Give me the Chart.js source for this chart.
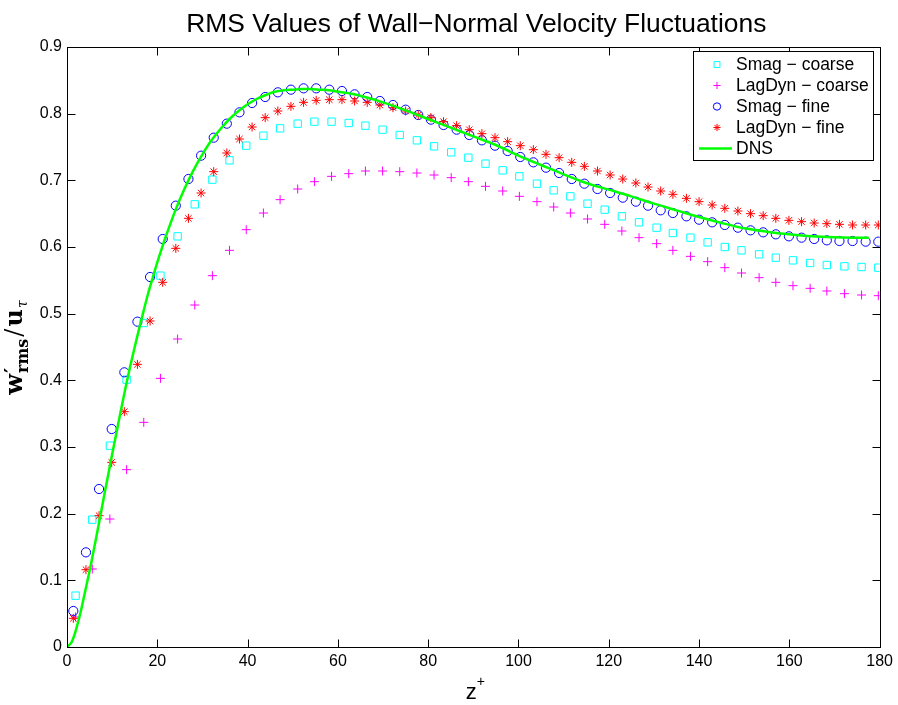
<!DOCTYPE html>
<html><head><meta charset="utf-8">
<script src="https://cdn.jsdelivr.net/npm/chart.js@4/dist/chart.umd.min.js"></script>
<style>html,body{margin:0;padding:0;background:#fff}canvas{display:block}</style>
</head><body>
<canvas id="c" width="898" height="705"></canvas>
<script>
// ---- data ----
const zCoarse = [1.9,5.6,9.5,13.2,17.0,20.7,24.5,28.3,32.2,36.0,39.7,43.5,47.2,51.1,54.8,58.6,62.4,66.1,69.9,73.7,77.5,81.3,85.1,88.9,92.7,96.5,100.2,104.1,107.8,111.5,115.3,119.1,122.9,126.7,130.6,134.2,138.1,141.9,145.7,149.4,153.3,157.0,160.8,164.6,168.3,172.2,176.0,179.7];
const smagCoarse = [0.077,0.191,0.302,0.401,0.486,0.557,0.616,0.664,0.701,0.730,0.752,0.767,0.778,0.785,0.788,0.788,0.786,0.782,0.776,0.768,0.760,0.751,0.742,0.734,0.725,0.715,0.706,0.695,0.685,0.676,0.665,0.656,0.646,0.637,0.629,0.621,0.614,0.607,0.600,0.595,0.589,0.584,0.580,0.576,0.573,0.571,0.570,0.569];
const lagdynCoarse = [0.045,0.117,0.192,0.266,0.337,0.403,0.462,0.513,0.557,0.595,0.626,0.651,0.671,0.687,0.698,0.706,0.710,0.714,0.714,0.713,0.711,0.708,0.704,0.698,0.691,0.684,0.676,0.668,0.660,0.651,0.642,0.634,0.624,0.614,0.605,0.595,0.586,0.578,0.569,0.561,0.554,0.547,0.542,0.538,0.534,0.530,0.528,0.527];
const zFine = [1.4,4.2,7.1,9.9,12.7,15.6,18.4,21.2,24.1,26.9,29.7,32.5,35.4,38.2,41.0,43.9,46.7,49.6,52.4,55.2,58.1,60.9,63.7,66.5,69.3,72.2,75.0,77.8,80.6,83.4,86.3,89.1,91.9,94.8,97.6,100.4,103.3,106.1,109.0,111.8,114.6,117.5,120.3,123.1,126.0,128.7,131.5,134.2,137.2,140.0,142.9,145.7,148.6,151.4,154.2,157.0,159.9,162.7,165.5,168.3,171.1,174.0,176.9,179.7];
const smagFine = [0.054,0.142,0.237,0.327,0.412,0.488,0.555,0.612,0.662,0.702,0.737,0.764,0.785,0.802,0.816,0.825,0.832,0.836,0.838,0.838,0.836,0.834,0.829,0.825,0.819,0.813,0.806,0.798,0.791,0.783,0.776,0.768,0.760,0.752,0.744,0.735,0.727,0.719,0.711,0.702,0.695,0.687,0.681,0.674,0.668,0.662,0.655,0.651,0.646,0.641,0.637,0.633,0.629,0.625,0.622,0.619,0.616,0.614,0.612,0.610,0.609,0.609,0.608,0.608];
const lagdynFine = [0.043,0.116,0.197,0.277,0.353,0.424,0.489,0.547,0.598,0.643,0.681,0.713,0.741,0.762,0.780,0.794,0.804,0.811,0.817,0.820,0.821,0.821,0.819,0.817,0.813,0.809,0.804,0.798,0.794,0.788,0.782,0.776,0.770,0.764,0.758,0.752,0.746,0.739,0.734,0.727,0.721,0.714,0.708,0.702,0.696,0.690,0.684,0.679,0.673,0.668,0.663,0.658,0.654,0.650,0.647,0.643,0.640,0.638,0.636,0.635,0.634,0.633,0.633,0.633];
const zDNS = [0,1,2,3,4,5,6,7,8,9,10,11,12,13,14,15,16,17,18,19,20,21,22,24,26,28,30,32,34,36,38,40,42,44,46,48,50,52,54,56,58,60,63,66,70,75,80,85,90,95,100,105,110,115,120,125,130,135,140,145,150,155,160,165,170,175,177.6];
const dns = [0,0.007,0.026,0.052,0.083,0.114,0.148,0.183,0.219,0.254,0.289,0.323,0.357,0.390,0.421,0.450,0.478,0.505,0.531,0.554,0.577,0.598,0.618,0.655,0.687,0.715,0.739,0.760,0.777,0.792,0.804,0.814,0.822,0.828,0.833,0.835,0.836,0.837,0.837,0.836,0.835,0.833,0.830,0.825,0.817,0.805,0.792,0.779,0.766,0.753,0.737,0.723,0.709,0.696,0.686,0.676,0.665,0.655,0.645,0.636,0.628,0.623,0.619,0.616,0.6145,0.614,0.614];
const xTicks = [0,20,40,60,80,100,120,140,160,180];
const yTicks = [0,0.1,0.2,0.3,0.4,0.5,0.6,0.7,0.8,0.9];
const seriesNames = ['Smag \u2212 coarse','LagDyn \u2212 coarse','Smag \u2212 fine','LagDyn \u2212 fine','DNS'];

// ---- styles ----
const FONT = '"Liberation Sans", Arial, Helvetica, sans-serif';
const SERIF = '"DejaVu Serif", "Liberation Serif", serif';
const CYAN = '#00ffff', MAG = '#ff00ff', BLUE = '#0000ff', RED = '#ff0000', GREEN = '#00ff00';

const pts = (xs, ys) => xs.map((x, i) => ({x: x, y: ys[i]}));

const styles = [
  {color: CYAN, pointStyle: 'rect', radius: 5.2},
  {color: MAG, pointStyle: 'cross', radius: 4.5},
  {color: BLUE, pointStyle: 'circle', radius: 4.6},
  {color: RED, pointStyle: 'star', radius: 4.5},
  {color: GREEN, line: true}
];

const decor = {
  id: 'decor',
  afterDraw(chart) {
    const c = chart.ctx, a = chart.chartArea, xs = chart.scales.x, ys = chart.scales.y;
    c.save();
    c.strokeStyle = '#000';
    c.lineWidth = 1;
    const L = Math.round(a.left) + 0.5, R = Math.round(a.right) + 0.5;
    const T = Math.round(a.top) + 0.5, B = Math.round(a.bottom) + 0.5;
    c.strokeRect(L, T, R - L, B - T);
    c.beginPath();
    const TL = 8;
    xTicks.forEach(v => {
      const p = Math.round(xs.getPixelForValue(v)) + 0.5;
      c.moveTo(p, B); c.lineTo(p, B - TL);
      c.moveTo(p, T); c.lineTo(p, T + TL);
    });
    yTicks.forEach(v => {
      const p = Math.round(ys.getPixelForValue(v)) + 0.5;
      c.moveTo(L, p); c.lineTo(L + TL, p);
      c.moveTo(R, p); c.lineTo(R - TL, p);
    });
    c.stroke();

    // title
    c.fillStyle = '#000';
    c.font = '26.4px ' + FONT;
    c.textAlign = 'center';
    c.textBaseline = 'alphabetic';
    c.fillText('RMS Values of Wall\u2212Normal Velocity Fluctuations', (a.left + a.right) / 2 + 3, 32);

    // x label z+
    c.font = '22px ' + FONT;
    c.textAlign = 'left';
    const zw = c.measureText('z').width;
    const xc = (a.left + a.right) / 2;
    c.fillText('z', xc - zw / 2 - 2, 699);
    c.font = '14px ' + FONT;
    c.fillText('+', xc + zw / 2 - 2, 686);

    // y label w'_rms / u_tau (rotated)
    c.save();
    c.translate(22, (a.top + a.bottom) / 2);
    c.rotate(-Math.PI / 2);
    const parts = [
      {t: 'w', f: 'bold 24px ' + SERIF, dy: 0},
      {t: 'rms', f: 'bold 16px ' + SERIF, dy: 6, sup: '\u2032'},
      {t: '/', f: '24px ' + SERIF, dy: 0, pad: 2},
      {t: 'u', f: 'bold 24px ' + SERIF, dy: 0},
      {t: '\u03c4', f: 'italic 14px ' + SERIF, dy: 5}
    ];
    let total = 0;
    parts.forEach(p => { c.font = p.f; p.w = c.measureText(p.t).width + 1 + (p.pad || 0); total += p.w; });
    let px = -total / 2;
    parts.forEach(p => {
      c.font = p.f;
      c.fillText(p.t, px + (p.pad || 0) / 2, p.dy);
      if (p.sup) {
        c.font = 'bold 20px ' + SERIF;
        c.fillText(p.sup, px, -3);
      }
      px += p.w;
    });
    c.restore();

    // legend
    const lx0 = 693, ly0 = 51, lx1 = 873, ly1 = 160;
    c.fillStyle = '#fff';
    c.fillRect(lx0, ly0, lx1 - lx0, ly1 - ly0);
    c.strokeStyle = '#000';
    c.lineWidth = 1;
    c.strokeRect(lx0 + 0.5, ly0 + 0.5, lx1 - lx0, ly1 - ly0);
    const rowY = [64.5, 85.5, 106.5, 127.5, 148.5];
    seriesNames.forEach((name, i) => {
      const s = styles[i], y = rowY[i];
      if (s.line) {
        c.strokeStyle = s.color; c.lineWidth = 2.5;
        c.beginPath(); c.moveTo(699, y); c.lineTo(732, y); c.stroke();
      } else {
        c.strokeStyle = s.color; c.fillStyle = 'rgba(0,0,0,0)'; c.lineWidth = 1;
        Chart.helpers.drawPoint(c, {pointStyle: s.pointStyle, radius: s.radius * 0.8, rotation: 0, borderWidth: 1}, 717, y);
      }
      c.fillStyle = '#000';
      c.font = '17.5px ' + FONT;
      c.textAlign = 'left';
      c.textBaseline = 'middle';
      c.fillText(name, 736, y + 1);
    });
    c.restore();
  }
};

const seriesData = [
  pts(zCoarse, smagCoarse),
  pts(zCoarse, lagdynCoarse),
  pts(zFine, smagFine),
  pts(zFine, lagdynFine),
  pts(zDNS, dns)
];

const datasets = seriesData.map((d, i) => {
  const s = styles[i];
  if (s.line) {
    return {label: seriesNames[i], data: d, showLine: true, borderColor: s.color, borderWidth: 2.5,
            pointRadius: 0, fill: false, tension: 0.3, order: 1};
  }
  return {label: seriesNames[i], data: d, showLine: false, pointStyle: s.pointStyle,
          pointRadius: s.radius, pointBorderColor: s.color, pointBackgroundColor: 'rgba(0,0,0,0)',
          pointBorderWidth: 1, order: 5 - i};
});

new Chart(document.getElementById('c'), {
  type: 'scatter',
  data: {datasets: datasets},
  options: {
    responsive: false,
    animation: false,
    devicePixelRatio: 1,
    layout: {padding: {left: 0, right: 18, top: 47, bottom: 0}},
    plugins: {legend: {display: false}, title: {display: false}, tooltip: {enabled: false}},
    scales: {
      x: {
        type: 'linear', min: 0, max: 180,
        afterFit: s => { s.height = 58; },
        afterBuildTicks: s => { s.ticks = xTicks.map(v => ({value: v})); },
        grid: {display: false, drawTicks: false},
        border: {display: false},
        ticks: {color: '#000', font: {family: FONT, size: 16}, padding: 5, maxRotation: 0, autoSkip: false,
                callback: v => String(v)}
      },
      y: {
        type: 'linear', min: 0, max: 0.9,
        afterFit: s => { s.width = 67; },
        afterBuildTicks: s => { s.ticks = yTicks.map(v => ({value: v})); },
        grid: {display: false, drawTicks: false},
        border: {display: false},
        ticks: {color: '#000', font: {family: FONT, size: 16}, padding: 5, autoSkip: false,
                callback: v => String(+Number(v).toFixed(1))}
      }
    }
  },
  plugins: [decor]
});
</script>
</body></html>
